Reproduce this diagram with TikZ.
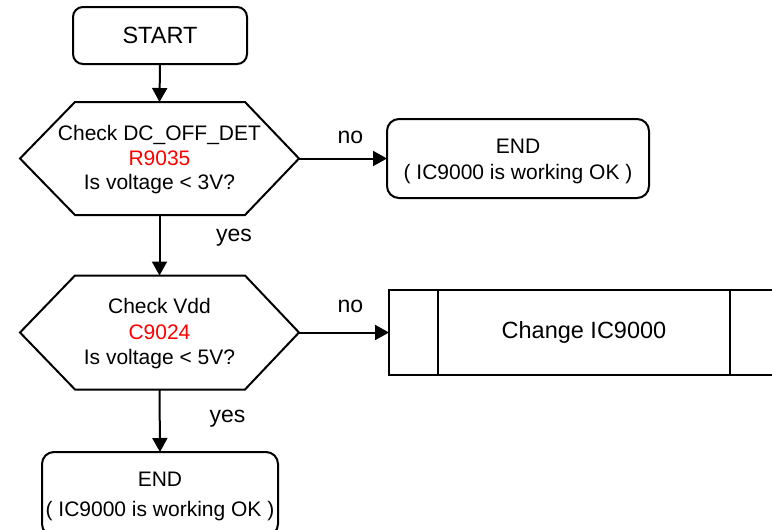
\documentclass[tikz,border=0pt]{standalone}
\usepackage{fontspec}
\setmainfont{Liberation Sans}
\usetikzlibrary{arrows.meta}
\begin{document}
\begin{tikzpicture}[x=1pt,y=-1pt,
  every node/.style={inner sep=0pt, outer sep=0pt},
  flowline/.style={line width=2pt, -{Triangle[length=14pt,width=15pt]}},
  term/.style={draw, line width=2pt, rounded corners=12pt, align=center, font=\fontsize{21}{26}\selectfont},
  dec/.style={minimum width=279pt, minimum height=113pt, align=center, font=\fontsize{21}{24.5}\selectfont},
  hexline/.style={draw, line width=2pt, line join=miter},
  lbl/.style={font=\fontsize{23}{27}\selectfont},
  procbox/.style={draw, line width=2pt, minimum width=390pt, minimum height=85pt, font=\fontsize{23.5}{27}\selectfont}
]
\useasboundingbox (0,0) rectangle (772,530);
\fill[white] (0,0) rectangle (772,530);
\clip (0,0) rectangle (772,530);

% nodes
\node[term, minimum width=174pt, minimum height=57pt, rounded corners=10pt, font=\fontsize{23.5}{27}\selectfont] (start) at (160,35.5) {START};
\node[dec] (h1) at (159.5,158.5) {};
\node[align=center, font=\fontsize{21}{24.5}\selectfont] (t1) at (159.5,160) {Check DC\_OFF\_DET\\\textcolor{red}{R9035}\\Is voltage < 3V?};
\node[dec, minimum height=114pt] (h2) at (159.5,332.5) {};
\node[align=center, font=\fontsize{21}{25.5}\selectfont] (t2) at (159.5,334) {Check Vdd\\\textcolor{red}{C9024}\\Is voltage < 5V?};
\node[term, minimum width=262pt, minimum height=79pt] (e1) at (518,158.5) {};
\node[align=center, font=\fontsize{21}{26}\selectfont] (t3) at (518,161) {END\\( IC9000 is working OK )};
\node[term, minimum width=236pt, minimum height=84pt] (e2) at (160,494) {};
\node[align=center, font=\fontsize{21}{30}\selectfont] (t4) at (160,496.5) {END\\( IC9000 is working OK )};
\node[procbox] (proc) at (584,332.5) {Change IC9000};

% hexagons
\draw[hexline] (h1.west) -- ([xshift=55pt]h1.north west) -- ([xshift=-54pt]h1.north east) -- (h1.east)
  -- ([xshift=-54pt]h1.south east) -- ([xshift=55pt]h1.south west) -- cycle;
\draw[hexline] (h2.west) -- ([xshift=55pt]h2.north west) -- ([xshift=-54pt]h2.north east) -- (h2.east)
  -- ([xshift=-54pt]h2.south east) -- ([xshift=55pt]h2.south west) -- cycle;

% process inner lines
\draw[line width=2pt] ([xshift=49pt]proc.north west) -- ([xshift=49pt]proc.south west);
\draw[line width=2pt] ([xshift=-49pt]proc.north east) -- ([xshift=-49pt]proc.south east);

% connectors
\draw[flowline] (start.south) -- (h1.north);
\draw[flowline] (h1.south) -- (h2.north);
\draw[flowline] (h1.east) -- (e1.west);
\draw[flowline] (h2.east) -- (proc.west);
\draw[flowline] (h2.south) -- (e2.north);

% labels
\node[lbl] (no1) at (350.5,137) {no};
\node[lbl] (no2) at (350.5,306) {no};
\node[lbl] (yes1) at (234,238) {yes};
\node[lbl] (yes2) at (227.5,419) {yes};
\end{tikzpicture}
\end{document}
